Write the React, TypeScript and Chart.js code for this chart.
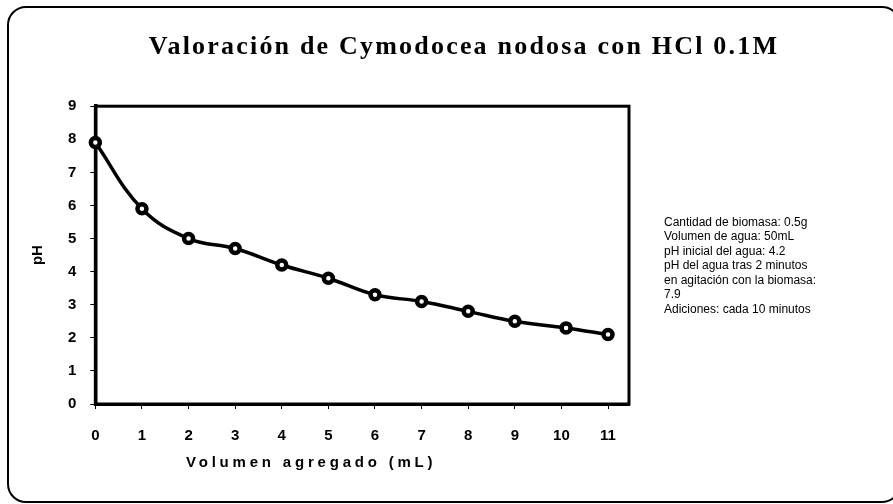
import { useEffect, useRef } from "react";
import { Chart, registerables } from "chart.js";

Chart.register(...registerables);

const volumen = [0, 1, 2, 3, 4, 5, 6, 7, 8, 9, 10.1, 11];
const ph = [7.9, 5.9, 5.0, 4.7, 4.2, 3.8, 3.3, 3.1, 2.8, 2.5, 2.3, 2.1];
const xTickValues = [0, 1, 2, 3, 4, 5, 6, 7, 8, 9, 10, 11];
const titulo = "Valoración de Cymodocea nodosa con HCl 0.1M";
const ejeX = "Volumen agregado (mL)";
const ejeY = "pH";
const notas = [
  "Cantidad de biomasa: 0.5g",
  "Volumen de agua: 50mL",
  "pH inicial del agua: 4.2",
  "pH del agua tras 2 minutos",
  "en agitación con la biomasa:",
  "7.9",
  "Adiciones: cada 10 minutos",
];

function patchSpacing(obj: any, method: string, spacing: string, dx: number) {
  if (!obj || !obj[method]) return;
  obj.__patched = obj.__patched || {};
  if (obj.__patched[method]) return;
  const orig = obj[method];
  obj[method] = function (...args: any[]) {
    const ctx = this.ctx;
    ctx.save();
    (ctx as any).letterSpacing = spacing;
    ctx.translate(dx, 0);
    const r = orig.apply(this, args);
    ctx.restore();
    return r;
  };
  obj.__patched[method] = true;
}

const framePlugin = {
  id: "frame",
  beforeDraw(chart: any) {
    const ctx = chart.ctx;
    ctx.save();
    ctx.fillStyle = "#ffffff";
    ctx.fillRect(0, 0, chart.width, chart.height);
    ctx.strokeStyle = "#000000";
    ctx.lineWidth = 2;
    ctx.beginPath();
    (ctx as any).roundRect(8, 7, 892, 495, 18);
    ctx.stroke();
    ctx.restore();
    patchSpacing(chart.titleBlock, "draw", "2.2px", 1);
    patchSpacing(chart.scales.x, "drawTitle", "3.8px", -51);
  },
  beforeDatasetsDraw(chart: any) {
    const { left, top, right, bottom } = chart.chartArea;
    const ctx = chart.ctx;
    ctx.save();
    ctx.strokeStyle = "#000000";
    ctx.lineWidth = 3;
    ctx.strokeRect(left, top, right - left, bottom - top);
    ctx.restore();
  },
};

const notesPlugin = {
  id: "notes",
  afterDraw(chart: any) {
    const ctx = chart.ctx;
    const { right, top } = chart.chartArea;
    ctx.save();
    ctx.fillStyle = "#000000";
    ctx.font = "12px 'Liberation Sans', Arial, sans-serif";
    ctx.textAlign = "left";
    ctx.textBaseline = "middle";
    notas.forEach((t, i) => {
      ctx.fillText(t, right + 35, top + 116 + i * 14.5);
    });
    ctx.restore();
  },
};

export default function App() {
  const ref = useRef<HTMLCanvasElement | null>(null);
  useEffect(() => {
    if (!ref.current) return;
    const chart = new Chart(ref.current, {
      type: "line",
      data: {
        datasets: [
          {
            data: volumen.map((v, i) => ({ x: v, y: ph[i] })),
            borderColor: "#000000",
            borderWidth: 3.5,
            tension: 0.4,
            pointRadius: 4.5,
            pointBorderWidth: 4.5,
            pointBackgroundColor: "#ffffff",
            pointBorderColor: "#000000",
            clip: false as any,
          },
        ],
      },
      options: {
        animation: false,
        responsive: true,
        maintainAspectRatio: false,
        layout: { padding: { left: 33, right: 0, top: 8, bottom: 22 } },
        plugins: {
          legend: { display: false },
          tooltip: { enabled: false },
          title: {
            display: true,
            text: titulo,
            color: "#000000",
            font: { family: "'Liberation Serif', 'Times New Roman', serif", size: 26, weight: "bold" },
            padding: { top: 24, bottom: 43 },
          },
        },
        scales: {
          x: {
            type: "linear",
            min: 0,
            max: 11.45,
            afterBuildTicks: (axis: any) => {
              axis.ticks = xTickValues.map((v) => ({ value: v }));
            },
            grid: { drawOnChartArea: false, drawTicks: true, tickLength: 5, color: "#000000" },
            border: { display: true, color: "#000000", width: 3 },
            ticks: {
              color: "#000000",
              padding: 18,
              maxRotation: 0,
              font: { family: "'Liberation Sans', Arial, sans-serif", size: 15, weight: "bold" },
            },
            title: {
              display: true,
              text: ejeX,
              color: "#000000",
              font: { family: "'Liberation Sans', Arial, sans-serif", size: 15, weight: "bold" },
              padding: { top: -9, bottom: 10 },
            },
          },
          y: {
            min: 0,
            max: 9,
            ticks: {
              stepSize: 1,
              color: "#000000",
              padding: 14,
              font: { family: "'Liberation Sans', Arial, sans-serif", size: 15, weight: "bold" },
            },
            grid: { drawOnChartArea: false, drawTicks: true, tickLength: 5, color: "#000000" },
            border: { display: true, color: "#000000", width: 3.5 },
            title: {
              display: true,
              text: ejeY,
              color: "#000000",
              font: { family: "'Liberation Sans', Arial, sans-serif", size: 15, weight: "bold" },
              padding: { top: -4, bottom: 7 },
            },
          },
          y2: {
            type: "linear",
            position: "right",
            display: true,
            grid: { display: false, drawTicks: false },
            border: { display: false },
            ticks: { display: false },
            afterFit: (s: any) => {
              s.width = 264;
            },
          },
        },
      },
      plugins: [framePlugin, notesPlugin],
    });
    return () => chart.destroy();
  }, []);
  return (
    <div style={{ position: "fixed", left: 0, top: 0, width: 893, height: 504 }}>
      <canvas ref={ref} />
    </div>
  );
}
